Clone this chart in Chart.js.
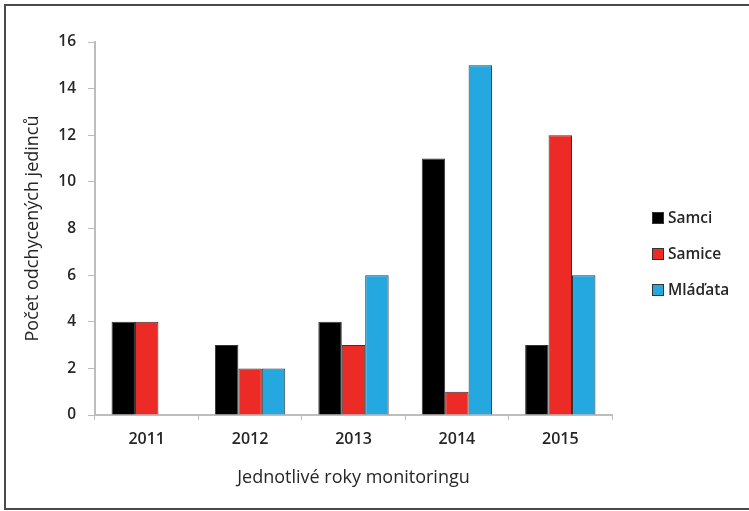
<!DOCTYPE html>
<html>
<head>
<meta charset="utf-8">
<script src="https://cdn.jsdelivr.net/npm/chart.js@4/dist/chart.umd.min.js"></script>
<style>
  html, body { margin: 0; padding: 0; background: #fff; }
  #wrap { position: relative; width: 749px; height: 511px; overflow: hidden; }
  #frame {
    position: absolute; left: 4px; top: 4px; width: 760px; height: 506px;
    border: 2px solid #4a4a4a; box-sizing: border-box; pointer-events: none;
  }
  canvas { position: absolute; left: 0; top: 0; }
</style>
</head>
<body>
<div id="wrap">
  <canvas id="chart" width="749" height="511"></canvas>
  <div id="frame"></div>
</div>
<script>
// Catch counts per monitoring year
const years = ['2011', '2012', '2013', '2014', '2015'];
const samci = [4, 3, 4, 11, 3];
const samice = [4, 2, 3, 1, 12];
const mladata = [0, 2, 6, 15, 6];
const seriesNames = ['Samci', 'Samice', 'Mláďata'];
const seriesColors = ['#000000', '#ec2b26', '#25a8df'];
const yTicks = [0, 2, 4, 6, 8, 10, 12, 14, 16];

const FONT = '"Open Sans", "DejaVu Sans", sans-serif';
const TEXT = '#262626';
const AXIS = '#bdbdbd';

// Legend drawn as a vertical list to the right of the plot
const sideLegend = {
  id: 'sideLegend',
  afterDraw(chart) {
    const { ctx, chartArea } = chart;
    const x0 = chartArea.right + 40;
    const yStart = chartArea.top + 176;
    const step = 36;
    const box = 12;
    ctx.save();
    ctx.font = '600 15.5px ' + FONT;
    ctx.textBaseline = 'middle';
    ctx.textAlign = 'left';
    chart.data.datasets.forEach((ds, i) => {
      const cy = yStart + i * step;
      ctx.fillStyle = ds.backgroundColor;
      ctx.fillRect(x0, cy - box / 2, box, box);
      ctx.strokeStyle = '#333';
      ctx.lineWidth = 1;
      ctx.strokeRect(x0 + 0.5, cy - box / 2 + 0.5, box - 1, box - 1);
      ctx.fillStyle = TEXT;
      ctx.fillText(ds.label, x0 + box + 4, cy + 1);
    });
    ctx.restore();
  }
};

const makeSet = (label, data, color) => ({
  label,
  data,
  backgroundColor: color,
  borderColor: '#333333',
  borderWidth: c => (c.raw === 0 ? 0 : 1),
  borderSkipped: 'bottom',
  categoryPercentage: 0.68,
  barPercentage: 1.0
});

new Chart(document.getElementById('chart'), {
  type: 'bar',
  data: {
    labels: years,
    datasets: [
      makeSet(seriesNames[0], samci, seriesColors[0]),
      makeSet(seriesNames[1], samice, seriesColors[1]),
      makeSet(seriesNames[2], mladata, seriesColors[2])
    ]
  },
  plugins: [sideLegend],
  options: {
    responsive: false,
    animation: false,
    layout: { padding: { left: 0, right: 137, top: 42, bottom: 0 } },
    plugins: {
      legend: { display: false },
      tooltip: { enabled: false }
    },
    scales: {
      x: {
        offset: true,
        grid: { display: true, offset: true, drawOnChartArea: false, drawTicks: true, tickLength: 5, color: AXIS },
        border: { display: true, color: AXIS, width: 2 },
        ticks: { color: TEXT, font: { family: FONT, size: 16, weight: '600' }, padding: 10 },
        title: {
          display: true,
          text: 'Jednotlivé roky monitoringu',
          color: TEXT,
          font: { family: FONT, size: 18 },
          padding: { top: 0, bottom: 22 }
        },
        afterFit(scale) { scale.height = 96; }
      },
      y: {
        min: 0,
        max: 16,
        afterBuildTicks(scale) { scale.ticks = yTicks.map(v => ({ value: v })); },
        grid: { display: true, drawOnChartArea: false, drawTicks: true, tickLength: 7, color: AXIS },
        border: { display: true, color: AXIS, width: 2 },
        ticks: { color: TEXT, font: { family: FONT, size: 15.5, weight: '600' }, padding: 12 },
        title: {
          display: true,
          text: 'Počet odchycených jedinců',
          color: TEXT,
          font: { family: FONT, size: 18 },
          padding: { top: 22, bottom: 0 }
        },
        afterFit(scale) { scale.width = 95; }
      }
    }
  }
});
</script>
</body>
</html>
